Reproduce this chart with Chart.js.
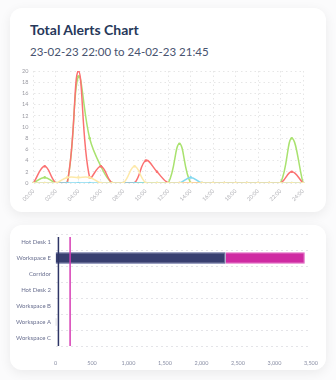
<!DOCTYPE html>
<html>
<head>
<meta charset="utf-8">
<script src="https://cdn.jsdelivr.net/npm/chart.js@4.4.0/dist/chart.umd.min.js"></script>
<style>
  body { margin: 0; background: #fbfbfc; width: 336px; height: 380px; overflow: hidden; font-family: Lato, sans-serif; }
  .card { position: absolute; left: 10px; width: 316px; background: #fff; border-radius: 12px; box-shadow: 0 3px 12px rgba(0,0,0,0.07); }
  #card1 { top: 8px; height: 204px; }
  #card2 { top: 225px; height: 145px; }
  .title { position: absolute; left: 20px; top: 13px; font-size: 14px; font-weight: bold; color: #27385a; }
  .subtitle { position: absolute; left: 20px; top: 37px; font-size: 11.5px; color: #48536f; }
  canvas { position: absolute; left: 0; }
</style>
</head>
<body>
<div class="card" id="card1">
  <div class="title">Total Alerts Chart</div>
  <div class="subtitle">23-02-23 22:00 to 24-02-23 21:45</div>
  <div style="position:absolute;left:0;top:52px;width:316px;height:152px"><canvas id="alertsChart"></canvas></div>
</div>
<div class="card" id="card2">
  <div style="position:absolute;left:0;top:0;width:316px;height:145px"><canvas id="zoneChart"></canvas></div>
</div>
<script>
// hourly labels
const hours = ['00:00','01:00','02:00','03:00','04:00','05:00','06:00','07:00','08:00','09:00','10:00','11:00','12:00',
  '13:00','14:00','15:00','16:00','17:00','18:00','19:00','20:00','21:00','22:00','23:00','24:00'];
const yellowAlerts = [0,0,0,1,1,1,0,0,0,3,0,0,0,0,0,0,0,0,0,0,0,0,0,0,0];
const cyanAlerts   = [0,0,0,0,0,0,0,0,0,0,0,0,0,0,1,0,0,0,0,0,0,0,0,0,0];
const redAlerts    = [0,3,0,0,20,1,3,0,0,0,4,2,0,0,0,0,0,0,0,0,0,0,0,2,0];
const greenAlerts  = [0,1,0,0,19,8,3,0,0,0,0,0,0,7,0,0,0,0,0,0,0,0,0,8,0];

const zones = ['Hot Desk 1','Workspace E','Corridor','Hot Desk 2','Workspace B','Workspace A','Workspace C'];
const navyCounts    = [0,2330,0,0,0,0,0];
const magentaCounts = [0,1085,0,0,0,0,0];
const greyCounts    = [0,0,0,0,0,12,0];
const markerLines = [40, 200];
const markerColors = ['#2e3566','#d63cb4'];

const tickFont = { family: 'Lato', size: 5.5 };

function lineSet(data, color) {
  return {
    data: data,
    borderColor: color,
    backgroundColor: color,
    borderWidth: 1.5,
    pointRadius: 1.3,
    pointBorderWidth: 0,
    tension: 0.4,
    fill: false
  };
}

new Chart(document.getElementById('alertsChart').getContext('2d'), {
  type: 'line',
  data: {
    labels: hours,
    datasets: [
      lineSet(yellowAlerts, '#fde9a9'),
      lineSet(cyanAlerts, '#84d9ef'),
      lineSet(redAlerts, '#fb7171'),
      lineSet(greenAlerts, '#a9e26f')
    ]
  },
  options: {
    responsive: true,
    maintainAspectRatio: false,
    animation: false,
    layout: { padding: { top: 11, right: 23, left: 0, bottom: 0 } },
    plugins: { legend: { display: false }, tooltip: { enabled: false } },
    scales: {
      x: {
        grid: { color: '#e6e6e6', drawTicks: false, tickBorderDash: [2, 3] },
        border: { display: false, dash: [1.5, 3] },
        ticks: { color: '#b3b3b8', font: tickFont, minRotation: 45, maxRotation: 45, autoSkip: true, maxTicksLimit: 13, padding: 5 },
        afterFit: function (s) { s.height = 29; }
      },
      y: {
        min: 0, max: 20,
        grid: { color: '#e6e6e6', drawTicks: false },
        border: { display: false, dash: [1.5, 3] },
        ticks: { stepSize: 2, color: '#9a9aa2', font: tickFont, padding: 5 },
        afterFit: function (s) { s.width = 23.5; }
      }
    }
  }
});

// vertical marker lines over the bar chart
const markerPlugin = {
  id: 'markers',
  afterDatasetsDraw(chart) {
    const c = chart.ctx, xs = chart.scales.x, area = chart.chartArea;
    c.save();
    markerLines.forEach(function (v, i) {
      const px = xs.getPixelForValue(v);
      c.strokeStyle = markerColors[i];
      c.lineWidth = 1.5;
      c.beginPath();
      c.moveTo(px, area.top + 3);
      c.lineTo(px, area.bottom);
      c.stroke();
    });
    c.restore();
  }
};

new Chart(document.getElementById('zoneChart').getContext('2d'), {
  type: 'bar',
  data: {
    labels: zones,
    datasets: [
      { data: navyCounts, backgroundColor: '#383f70', borderColor: '#4d5590', borderWidth: 1 },
      { data: magentaCounts, backgroundColor: '#cf2aa2', borderColor: '#e05cc0', borderWidth: 1 },
      { data: greyCounts, backgroundColor: '#c9c9d2', borderWidth: 0, barPercentage: 0.6 }
    ]
  },
  plugins: [markerPlugin],
  options: {
    indexAxis: 'y',
    responsive: true,
    maintainAspectRatio: false,
    animation: false,
    layout: { padding: { top: 9, right: 15, left: 0, bottom: 0 } },
    plugins: { legend: { display: false }, tooltip: { enabled: false } },
    scales: {
      x: {
        stacked: true,
        min: 0, max: 3500,
        grid: { display: false },
        border: { display: false },
        ticks: { stepSize: 500, color: '#8a8fa5', font: tickFont, padding: 6 },
        afterFit: function (s) { s.height = 24; }
      },
      y: {
        stacked: true,
        grid: { color: '#e4e4e8', drawTicks: false },
        border: { display: false, dash: [2, 3] },
        ticks: { color: '#6a7090', font: { family: 'Lato', size: 6 }, padding: 4.5 },
        afterFit: function (s) { s.width = 45.5; }
      }
    }
  }
});
</script>
</body>
</html>
